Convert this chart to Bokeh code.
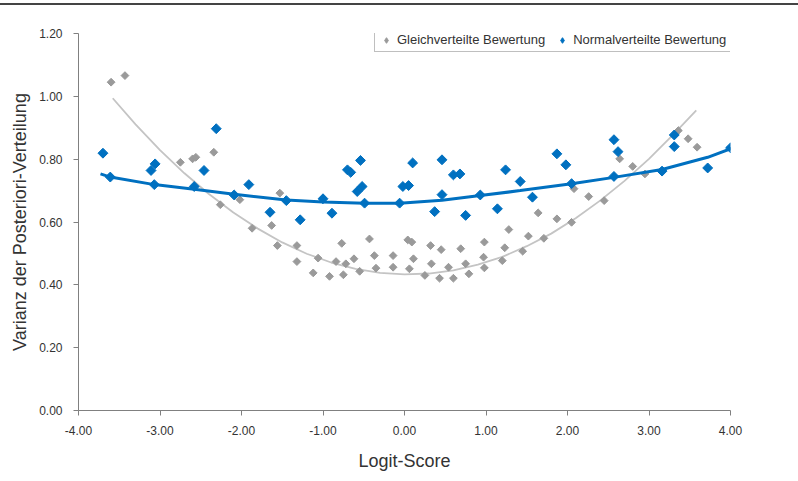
import numpy as np
from bokeh.plotting import figure
from bokeh.layouts import column
from bokeh.models import (Legend, LegendItem, FixedTicker, NumeralTickFormatter,
                          Range1d, Title, Div)
from bokeh.embed import file_html
from bokeh.resources import INLINE

# Normalverteilte Bewertung (blue)
blue_x = [-3.70, -3.61, -3.11, -3.06, -3.07, -2.31, -2.46, -2.58, -1.91, -2.09,
          -1.65, -1.45, -1.28, -1.00, -0.89, -0.70, -0.66, -0.54, -0.58, -0.52,
          -0.49, -0.06, -0.02, 0.05, 0.10, 0.46, 0.46, 0.37, 0.60, 0.68,
          0.75, 0.93, 1.14, 1.24, 1.42, 1.57, 1.87, 1.98, 2.05, 2.57,
          2.57, 2.62, 3.16, 3.31, 3.31, 3.72, 4.00]
blue_y = [0.819, 0.743, 0.764, 0.785, 0.719, 0.897, 0.764, 0.713, 0.719, 0.686,
          0.631, 0.668, 0.607, 0.674, 0.628, 0.766, 0.758, 0.796, 0.697, 0.713,
          0.660, 0.660, 0.713, 0.716, 0.788, 0.798, 0.687, 0.633, 0.750, 0.753,
          0.621, 0.686, 0.642, 0.766, 0.729, 0.679, 0.817, 0.782, 0.722, 0.745,
          0.862, 0.824, 0.762, 0.877, 0.840, 0.772, 0.836]

# Gleichverteilte Bewertung (grey)
gray_x = [-3.60, -3.43, -2.75, -2.60, -2.56, -2.34, -2.26, -2.02, -1.87, -1.53,
          -1.63, -1.56, -1.32, -1.32, -1.12, -1.06, -0.92, -0.84, -0.77, -0.75,
          -0.72, -0.62, -0.55, -0.43, -0.37, -0.35, -0.14, -0.14, 0.04, 0.09,
          0.06, 0.11, 0.25, 0.32, 0.33, 0.43, 0.45, 0.54, 0.60, 0.69,
          0.75, 0.79, 0.98, 0.97, 0.98, 1.23, 1.20, 1.28, 1.45, 1.52,
          1.64, 1.71, 1.87, 2.05, 2.08, 2.26, 2.45, 2.64, 2.80, 2.95,
          3.36, 3.48, 3.59]
gray_y = [1.045, 1.066, 0.790, 0.801, 0.806, 0.822, 0.655, 0.671, 0.580, 0.692,
          0.589, 0.525, 0.525, 0.474, 0.438, 0.485, 0.427, 0.474, 0.532, 0.432,
          0.467, 0.483, 0.443, 0.546, 0.493, 0.453, 0.493, 0.456, 0.543, 0.536,
          0.451, 0.483, 0.430, 0.525, 0.467, 0.421, 0.512, 0.456, 0.421, 0.515,
          0.467, 0.435, 0.536, 0.488, 0.454, 0.518, 0.477, 0.576, 0.507, 0.555,
          0.629, 0.548, 0.610, 0.599, 0.706, 0.681, 0.668, 0.801, 0.777, 0.753,
          0.891, 0.865, 0.838]

# trend curves
blue_curve_x = [-3.73, -3.61, -3.07, -2.58, -2.09, -1.45, -1.00, -0.49, -0.06,
                0.46, 0.93, 1.42, 2.05, 2.57, 3.16, 3.72, 4.05]
blue_curve_y = [0.753, 0.743, 0.719, 0.704, 0.688, 0.670, 0.664, 0.660, 0.660,
                0.669, 0.684, 0.700, 0.722, 0.742, 0.767, 0.806, 0.838]
gray_curve_x = [-3.58, -3.30, -3.00, -2.70, -2.40, -2.10, -1.80, -1.50, -1.20,
                -0.90, -0.60, -0.30, 0.00, 0.30, 0.60, 0.90, 1.20, 1.50, 1.80,
                2.10, 2.40, 2.70, 3.00, 3.30, 3.58]
gray_curve_y = [0.994, 0.911, 0.829, 0.755, 0.689, 0.630, 0.579, 0.535, 0.499,
                0.471, 0.451, 0.438, 0.433, 0.436, 0.446, 0.464, 0.489, 0.523,
                0.563, 0.612, 0.668, 0.731, 0.801, 0.879, 0.955]

x_ticks = [-4, -3, -2, -1, 0, 1, 2, 3, 4]
y_ticks = [0.0, 0.2, 0.4, 0.6, 0.8, 1.0, 1.2]

series_names = ["Gleichverteilte Bewertung", "Normalverteilte Bewertung"]
x_title = "Logit-Score"
y_title = "Varianz der Posteriori-Verteilung"

BLUE = "#0070C0"
GREY = "#9A9A9A"
FONT = "Liberation Sans"

p = figure(width=798, height=473, output_backend="svg", toolbar_location=None,
           x_range=Range1d(-4, 4), y_range=Range1d(0, 1.2),
           min_border_left=77, min_border_right=68,
           min_border_top=25, min_border_bottom=71)
p.outline_line_color = None
p.grid.visible = False
p.background_fill_color = "white"
p.border_fill_color = "white"

for ax, ticks in ((p.xaxis, x_ticks), (p.yaxis, y_ticks)):
    ax.ticker = FixedTicker(ticks=ticks)
    ax.formatter = NumeralTickFormatter(format="0.00")
    ax.axis_line_color = "#808080"
    ax.major_tick_line_color = "#808080"
    ax.minor_tick_line_color = None
    ax.major_tick_out = 5
    ax.major_tick_in = 0
    ax.major_label_text_font = FONT
    ax.major_label_text_font_size = "12px"
    ax.major_label_text_color = "#333333"
    ax.axis_label_text_font = FONT
    ax.axis_label_text_font_size = "18px"
    ax.axis_label_text_font_style = "normal"
    ax.axis_label_text_color = "#333333"

p.xaxis.axis_label = x_title
p.xaxis.major_label_standoff = 10
p.yaxis.major_label_standoff = 11
p.xaxis.axis_label_standoff = 13

p.add_layout(Title(text=y_title, align="center", offset=-19, standoff=14,
                   text_font=FONT, text_font_size="18px",
                   text_font_style="normal", text_color="#333333"), "left")

# legend swatches: small diamonds hidden underneath the first point of each series
lg_gray = p.scatter(gray_x[:1], gray_y[:1], marker="diamond", size=4,
                    fill_color=GREY, line_color=GREY)
lg_blue = p.scatter(blue_x[:1], blue_y[:1], marker="diamond", size=5,
                    fill_color=BLUE, line_color=BLUE)

p.line(gray_curve_x, gray_curve_y, line_color="#C4C4C4", line_width=1.8)
r_gray = p.scatter(gray_x, gray_y, marker="square", angle=np.pi / 4, size=5.5,
                   fill_color=GREY, line_color=GREY)
p.line(blue_curve_x, blue_curve_y, line_color=BLUE, line_width=3)
r_blue = p.scatter(blue_x, blue_y, marker="square", angle=np.pi / 4, size=7,
                   fill_color=BLUE, line_color=BLUE)

legend = Legend(items=[LegendItem(label=series_names[0], renderers=[lg_gray]),
                       LegendItem(label=series_names[1], renderers=[lg_blue])],
                orientation="horizontal", location=(296, 358))
legend.label_text_font = FONT
legend.label_text_font_size = "13px"
legend.label_text_color = "#333333"
legend.border_line_color = "#7F7F7F"
legend.border_line_width = 1
legend.background_fill_alpha = 1
legend.padding = 4
legend.spacing = 10
legend.margin = 0
legend.glyph_width = 14
legend.glyph_height = 14
legend.label_standoff = 4
legend.label_height = 12
p.add_layout(legend, "center")

rule = Div(text="", width=798, height=2, margin=(3, 0, 3, 0),
           styles={"background-color": "#444444"})
p.margin = 0
layout = column(rule, p, spacing=0, margin=0)

open("out.html", "w").write(file_html(layout, INLINE))
